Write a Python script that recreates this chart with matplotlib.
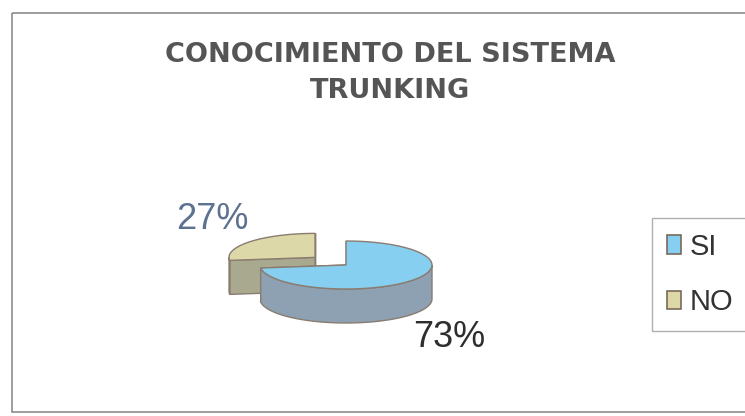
import numpy as np
import matplotlib
matplotlib.use("Agg")
import matplotlib.pyplot as plt
from matplotlib.patches import Polygon, Rectangle, Patch


labels  = ["SI", "NO"]
values  = [73, 27]
pcts    = ["73%", "27%"]
explode = [0.0, 0.48]

title = "CONOCIMIENTO DEL SISTEMA\nTRUNKING"

top_col  = ["#86cff0", "#dcd8a8"]   # top faces
side_col = ["#8ea1b3", "#a9a98f"]   # walls
edge_col = "#8a7c70"
lbl_col  = ["#2e2e2e", "#5c7290"]

# pie geometry in pixels
cx, cy = 346., 265.
a, b   = 86., 24.
depth  = 34.

W, H = 745, 416
fig = plt.figure(figsize=(W/100., H/100.), dpi=100)
ax = fig.add_axes([0, 0, 1, 1])
ax.set_xlim(0, W)
ax.set_ylim(H, 0)
ax.axis("off")

# outer frame of the chart
ax.add_patch(Rectangle((12, 13), 760, 399, fill=False, ec="#8c8c8c", lw=1.2))


def arc(x0, y0, t0, t1, n=80, dz=0.):
	t = np.radians(np.linspace(t0, t1, n))
	return np.column_stack([x0 + a*np.cos(t), y0 - b*np.sin(t) + dz])


def draw_slice(x0, y0, t0, t1, top, side):
	# radial walls
	for t in (t0, t1):
		p = arc(x0, y0, t, t, 1)[0]
		poly = [(x0, y0), p, p + [0, depth], (x0, y0 + depth)]
		ax.add_patch(Polygon(poly, fc=side, ec=edge_col, lw=1.0))

	# outer wall, only the front half is visible
	for k in range(-2, 2):
		lo = max(t0, 180. + 360.*k)
		hi = min(t1, 360. + 360.*k)
		if hi <= lo:
			continue
		up = arc(x0, y0, lo, hi)
		dn = arc(x0, y0, hi, lo, dz=depth)
		ax.add_patch(Polygon(np.vstack([up, dn]), fc=side, ec=edge_col, lw=1.0))

	# top face
	pts = np.vstack([[x0, y0], arc(x0, y0, t0, t1)])
	ax.add_patch(Polygon(pts, fc=top, ec=edge_col, lw=1.0))


# slice angles: start at 12 o'clock, clockwise
tot = float(sum(values))
ang = [90.]
for v in values:
	ang.append(ang[-1] - v/tot*360.)

slices = []
for i in range(len(values)):
	t1, t0 = ang[i], ang[i+1]
	mid = np.radians(0.5*(t0 + t1))
	x0 = cx + explode[i]*a*np.cos(mid)
	y0 = cy - explode[i]*b*np.sin(mid)
	slices.append((i, x0, y0, t0, t1, mid))

# draw the back slice first
for i, x0, y0, t0, t1, mid in sorted(slices, key=lambda s: s[2]):
	draw_slice(x0, y0, t0, t1, top_col[i], side_col[i])

for i, x0, y0, t0, t1, mid in slices:
	lx = x0 + 1.6*a*np.cos(mid)
	ly = y0 - 2.4*b*np.sin(mid) + (depth if np.sin(mid) < 0 else 0.)
	ax.text(lx, ly, pcts[i], ha="center", va="center", fontsize=26,
		family="Liberation Sans", color=lbl_col[i])

ax.text(390, 73, title, ha="center", va="center", fontsize=19.5,
	family="DejaVu Sans", weight="bold", color="#555555", linespacing=1.55)

# legend runs off the right edge like in the scan
handles = [Patch(fc=top_col[i], ec="#7a6a5c", lw=1.2) for i in range(len(labels))]
leg = ax.legend(handles, labels, loc="upper left", mode="expand",
	bbox_to_anchor=(652./W, 1. - 218./H, 0.2, 0.), borderaxespad=0.,
	prop={"family": "Liberation Sans", "size": 21},
	handlelength=0.5, handleheight=0.6, handletextpad=0.3,
	labelspacing=0.95, borderpad=0.5, fancybox=False, frameon=True)
leg.get_frame().set_edgecolor("#9a9a9a")
leg.get_frame().set_linewidth(1.0)
for t in leg.get_texts():
	t.set_color("#333333")

fig.savefig("out.png", dpi=100)
